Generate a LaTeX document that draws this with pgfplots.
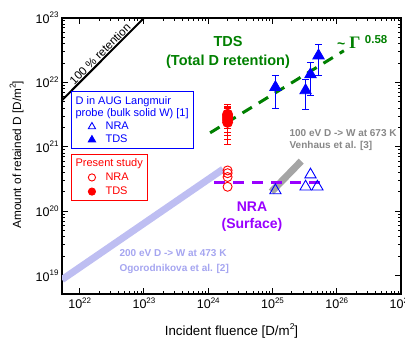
\documentclass[border=0pt]{standalone}
\usepackage{pgfplots}
\pgfplotsset{compat=1.18}
\usepackage{fontspec}
\setmainfont{Liberation Sans}
\newfontfamily\serifgr{Liberation Serif}
\definecolor{dgreen}{RGB}{0,128,0}
\definecolor{nrapurple}{RGB}{153,0,255}
\definecolor{lblue}{RGB}{190,190,242}
\definecolor{lbluetext}{RGB}{165,165,240}
\definecolor{vgray}{RGB}{165,165,165}
\definecolor{vgraytext}{RGB}{135,135,135}
\newcommand{\fs}[1]{\fontsize{#1}{#1}\selectfont}
\newcommand{\tsup}[1]{\raisebox{5.5pt}{\fs{8}#1}}
\newcommand{\lsup}[1]{\raisebox{5.5pt}{\fs{8.5}#1}}
\pgfplotsset{myaxisgeom/.style={scale only axis, width=339pt, height=276pt,
  xmin=5.3e21, xmax=1e27, ymin=5.2e18, ymax=1e23}}
\begin{document}
\begin{tikzpicture}
\begin{loglogaxis}[myaxisgeom,
  axis line style={line width=1.8pt},
  every tick/.style={black, line width=1pt},
  major tick length=6pt, minor tick length=3pt, tick align=inside,
  xtick={1e22,1e23,1e24,1e25,1e26,1e27},
  ytick={1e19,1e20,1e21,1e22,1e23},
  xticklabel={\pgfmathparse{int(round(\tick/ln(10)))}10\tsup{\pgfmathresult}},
  yticklabel={\pgfmathparse{int(round(\tick/ln(10)))}10\tsup{\pgfmathresult}},
  ticklabel style={font=\fs{12.5}},
  xlabel={Incident fluence [D/m\lsup{2}]},
  ylabel={Amount of retained D [D/m\lsup{2}]},
  xlabel style={font=\fs{13.3}, at={(axis description cs:0.5,-0.133)}, anchor=center},
  ylabel style={font=\fs{11.8}, at={(axis description cs:-0.134,0.505)}, anchor=center},
  legend style={draw=red, line width=0.8pt, text=red, font=\fontsize{11}{12.5}\selectfont,
    at={(0.0265,0.507)}, anchor=north west, row sep=1pt},
  legend cell align=left,
  legend image post style={mark size=3.6pt, xshift=9pt},
]
\addplot[black, line width=2pt, forget plot] coordinates {(5.3e21,5.3e21) (1e23,1e23)};
\addplot[lblue, line width=7pt, forget plot] coordinates {(5.3e21,8.7e18) (1.7e24,4.5e20)};
\addplot[vgray, line width=7pt, forget plot] coordinates {(9.6e24,2.0e20) (2.8e25,6.0e20)};
\addplot[dgreen, line width=3pt, dash pattern=on 11pt off 8pt, forget plot] coordinates {(1.07e24,1.65e21) (1.29e26,3.1e22)};
\addplot[nrapurple, line width=3pt, dash pattern=on 11pt off 8pt, forget plot] coordinates {(1.25e24,2.8e20) (7e25,2.8e20)};

\addlegendimage{empty legend}
\addlegendentry{\hspace*{-22pt}Present study}
\addplot[red, only marks, mark=o, mark size=4.5pt, line width=0.9pt] table {
x y
2e24 4.3e20
2e24 3.9e20
2e24 3.4e20
2e24 2.4e20
};
\addlegendentry{\hspace*{8pt}NRA}
\addplot[red, only marks, mark=*, mark size=5pt, line width=0.9pt,
  error bars/.cd, y dir=both, y explicit,
  error bar style={line width=0.9pt, red},
  error mark options={rotate=90, mark size=3.5pt, line width=0.9pt, red}] table[x=x, y=y, y error=e] {
x y e
2e24 3.2e21 1.3e21
2e24 3.0e21 1.3e21
2e24 2.8e21 1.3e21
2e24 2.6e21 1.3e21
2e24 2.4e21 1.3e21
};
\addlegendentry{\hspace*{8pt}TDS}

\node[black, font=\fs{11.5}, rotate=45, anchor=south, inner sep=1.5pt] at (axis cs:2.4e22,2.4e22) {100 \% retention};
\node[dgreen, font=\fs{14.5}\bfseries] at (rel axis cs:0.4897,0.913) {TDS};
\node[dgreen, font=\fs{14.5}\bfseries] at (rel axis cs:0.4897,0.8406) {(Total D retention)};
\node[dgreen, font=\bfseries, anchor=base west, inner sep=0pt] at (rel axis cs:0.811,0.891)
  {\fs{14}\textasciitilde\hspace{4pt}{\serifgr\bfseries\fs{17.5}Γ}\hspace{4.5pt}\raisebox{4.5pt}{\fs{11.5}0.58}};
\node[vgraytext, font=\fs{10}\bfseries, anchor=west] at (rel axis cs:0.661,0.5833) {100 eV D -> W at 673 K};
\node[vgraytext, font=\fs{10}\bfseries, anchor=west] at (rel axis cs:0.661,0.536) {Venhaus et al. [3]};
\node[nrapurple, font=\fs{14}\bfseries] at (rel axis cs:0.5605,0.315) {NRA};
\node[nrapurple, font=\fs{14}\bfseries] at (rel axis cs:0.5605,0.25) {(Surface)};
\node[lbluetext, font=\fs{10}\bfseries, anchor=west] at (rel axis cs:0.1593,0.1486) {200 eV D -> W at 473 K};
\node[lbluetext, font=\fs{10}\bfseries, anchor=west] at (rel axis cs:0.1593,0.0906) {Ogorodnikova et al. [2]};
\end{loglogaxis}

\begin{loglogaxis}[myaxisgeom, hide axis,
  legend style={draw=blue, line width=0.8pt, text=blue, font=\fontsize{11}{12.5}\selectfont,
    at={(0.0265,0.7355)}, anchor=north west, row sep=0pt},
  legend cell align=left,
  legend image post style={mark size=4.2pt, xshift=9pt},
]
\addlegendimage{empty legend}
\addlegendentry{\hspace*{-22pt}\begin{tabular}[b]{@{}l@{}}D in AUG Langmuir\\probe (bulk solid W) [1]\end{tabular}}
\addplot[blue, only marks, mark=triangle, mark size=6.5pt, line width=0.9pt] table {
x y
1.11e25 2.1e20
3.27e25 2.4e20
3.9e25 3.7e20
5.0e25 2.4e20
};
\addlegendentry{\hspace*{8pt}NRA}
\addplot[blue, only marks, mark=triangle*, mark size=6.5pt, line width=0.9pt,
  error bars/.cd, y dir=both, y explicit,
  error bar style={line width=0.9pt, blue},
  error mark options={rotate=90, mark size=3.5pt, line width=0.9pt, blue}] table[x=x, y=y, y error=e] {
x y e
1.11e25 8.4e21 4.4e21
3.27e25 7.5e21 3.7e21
3.9e25 1.33e22 0.7e22
5.2e25 2.6e22 1.3e22
};
\addlegendentry{\hspace*{8pt}TDS}
\end{loglogaxis}
\pgfresetboundingbox
\path[use as bounding box] ([shift={(-62pt,-44pt)}]current axis.south west) rectangle ([shift={(4pt,18pt)}]current axis.north east);
\end{tikzpicture}
\end{document}
